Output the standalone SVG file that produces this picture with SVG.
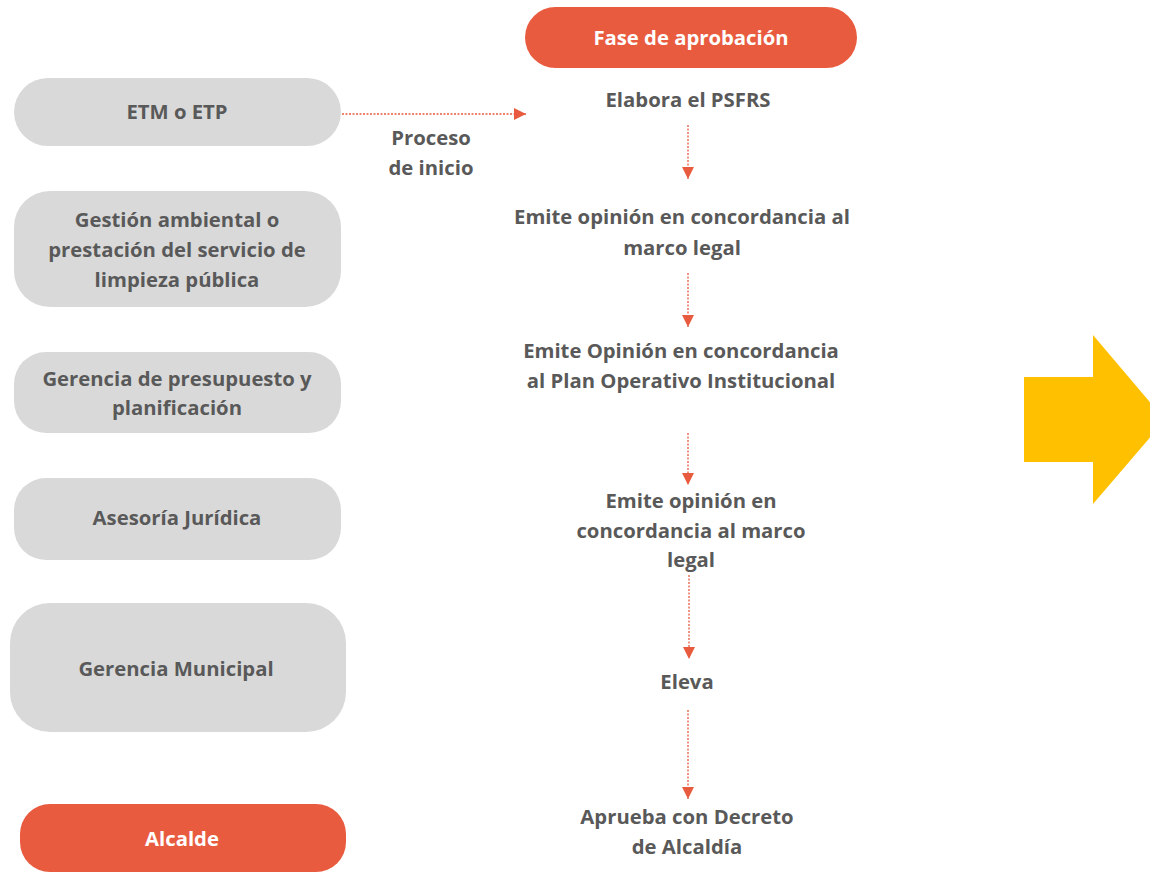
<svg xmlns="http://www.w3.org/2000/svg" width="1150" height="872" viewBox="0 0 1150 872">
<defs>
<style>
.box{fill:#D9D9D9}
.org{fill:#E95B3F}
.t{font-family:"Open Sans","Liberation Sans",sans-serif;font-weight:bold;font-size:20.3px;fill:#595959;text-anchor:middle}
.w{fill:#FFFFFF}
.c{stroke:#E95B3F;stroke-width:1.3;stroke-dasharray:2 1.5;fill:none}
</style>
<marker id="ah" viewBox="0 0 10 10" refX="10" refY="5" markerWidth="12" markerHeight="12" markerUnits="userSpaceOnUse" orient="auto">
<path d="M0,0 L10,5 L0,10 Z" fill="#E95B3F"/>
</marker>
</defs>
<rect width="1150" height="872" fill="#FFFFFF"/>

<g id="etm">
<rect class="box" x="14" y="78" width="327" height="68" rx="34"/>
<text class="t" x="177" y="119">ETM o ETP</text>
</g>
<g id="gestion">
<rect class="box" x="14" y="191" width="327" height="116" rx="36"/>
<text class="t" x="177" y="227">Gestión ambiental o</text>
<text class="t" x="177" y="257">prestación del servicio de</text>
<text class="t" x="177" y="287">limpieza pública</text>
</g>
<g id="presupuesto">
<rect class="box" x="14" y="352" width="327" height="81" rx="32"/>
<text class="t" x="177" y="386">Gerencia de presupuesto y</text>
<text class="t" x="177" y="415">planificación</text>
</g>
<g id="asesoria">
<rect class="box" x="14" y="478" width="327" height="82" rx="32"/>
<text class="t" x="177" y="525">Asesoría Jurídica</text>
</g>
<g id="gerencia">
<rect class="box" x="10" y="603" width="336" height="129" rx="40"/>
<text class="t" x="176" y="676">Gerencia Municipal</text>
</g>
<g id="alcalde">
<rect class="org" x="20" y="804" width="326" height="68" rx="30"/>
<text class="t w" x="182" y="846">Alcalde</text>
</g>
<g id="fase">
<rect class="org" x="525" y="7" width="332" height="61" rx="30.5"/>
<text class="t w" x="691" y="45">Fase de aprobación</text>
</g>

<g id="steps">
<text class="t" x="688" y="107">Elabora el PSFRS</text>
<text class="t" x="682" y="224">Emite opinión en concordancia al</text>
<text class="t" x="682" y="255">marco legal</text>
<text class="t" x="681" y="358">Emite Opinión en concordancia</text>
<text class="t" x="681" y="388">al Plan Operativo Institucional</text>
<text class="t" x="691" y="508">Emite opinión en</text>
<text class="t" x="691" y="538">concordancia al marco</text>
<text class="t" x="691" y="567">legal</text>
<text class="t" x="687" y="689">Eleva</text>
<text class="t" x="687" y="824">Aprueba con Decreto</text>
<text class="t" x="687" y="854">de Alcaldía</text>
<text class="t" x="431" y="145">Proceso</text>
<text class="t" x="431" y="175">de inicio</text>
</g>

<g id="connectors">
<line class="c" x1="342" y1="114" x2="526" y2="114" marker-end="url(#ah)"/>
<line class="c" x1="688" y1="125" x2="688" y2="179" marker-end="url(#ah)"/>
<line class="c" x1="688" y1="273" x2="688" y2="327" marker-end="url(#ah)"/>
<line class="c" x1="688" y1="433" x2="688" y2="485" marker-end="url(#ah)"/>
<line class="c" x1="689" y1="575" x2="689" y2="659" marker-end="url(#ah)"/>
<line class="c" x1="688" y1="710" x2="688" y2="799" marker-end="url(#ah)"/>
</g>

<g id="bigarrow">
<polygon points="1024,377 1093,377 1093,335 1165,420 1093,504 1093,462 1024,462" fill="#FFC000"/>
</g>
</svg>
